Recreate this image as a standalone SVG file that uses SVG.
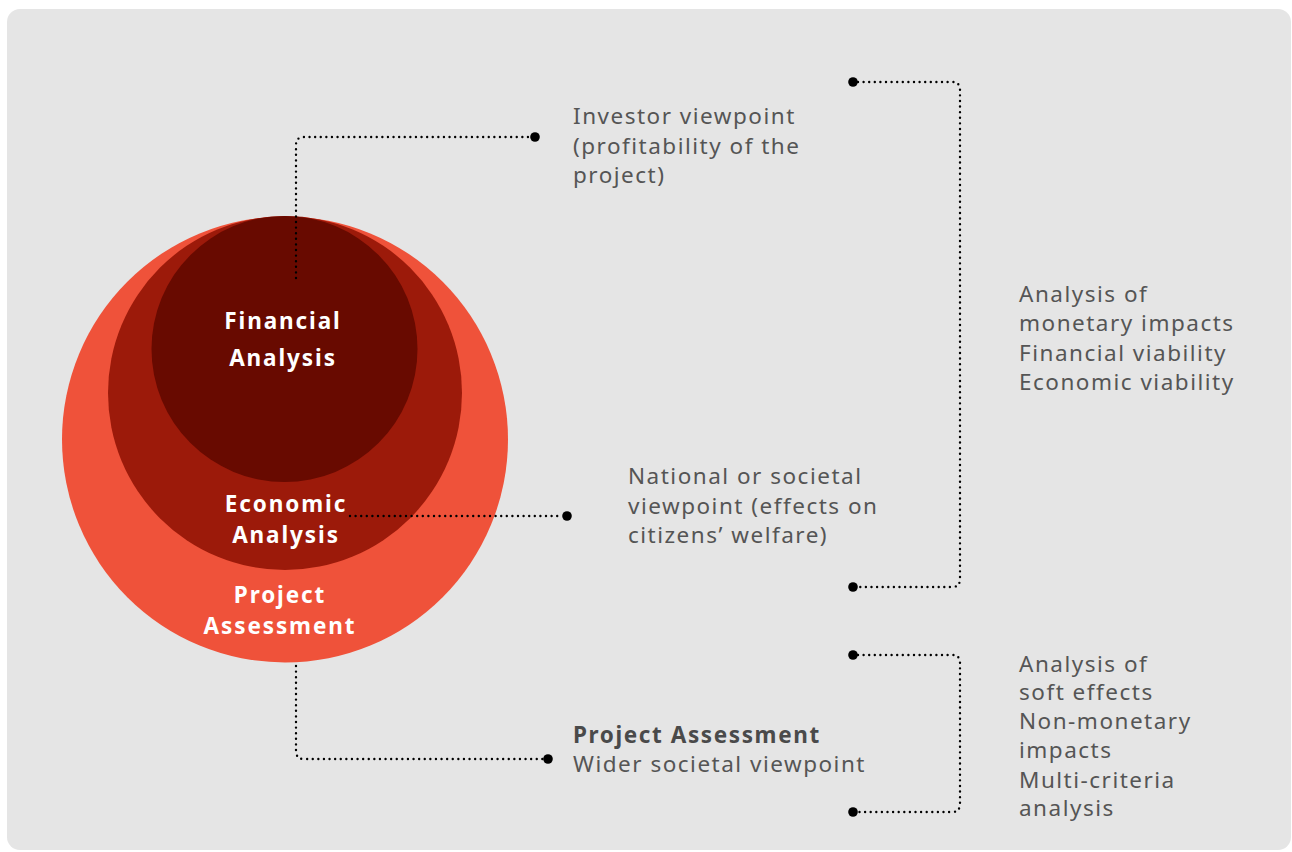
<svg xmlns="http://www.w3.org/2000/svg" width="1292" height="852" viewBox="0 0 1292 852">
<defs>
<style>
.lbl{font-family:"Noto Sans","Open Sans",sans-serif;font-size:22.5px;fill:#555;letter-spacing:1.5px}
.lblb{font-family:"Noto Sans","Open Sans",sans-serif;font-size:22.5px;fill:#4a4a4a;font-weight:bold;letter-spacing:1.6px}
.in{font-family:"Noto Sans","Open Sans",sans-serif;font-size:22.5px;fill:#fff;font-weight:bold;text-anchor:middle;letter-spacing:1.9px}
.dot{fill:none;stroke:#000;stroke-width:2.4;stroke-linecap:round;stroke-dasharray:0 5.6}
.end{fill:#000}
</style>
</defs>
<rect x="7" y="9" width="1284" height="841" rx="13" fill="#e5e5e5"/>
<g id="project-assessment">
<circle cx="285" cy="439.5" r="223" fill="#ef523a"/>
<text class="in" x="280" y="603">Project</text>
<text class="in" x="280" y="634">Assessment</text>
</g>
<g id="economic-analysis">
<circle cx="285" cy="393" r="177" fill="#9c1a0a"/>
<text class="in" x="286" y="512">Economic</text>
<text class="in" x="286" y="543">Analysis</text>
</g>
<g id="financial-analysis">
<circle cx="284.5" cy="349" r="133" fill="#680a00"/>
<text class="in" x="283" y="329">Financial</text>
<text class="in" x="283" y="366">Analysis</text>
</g>
<g id="connectors">
<path class="dot" d="M296 278 V145 Q296 137 304 137 H530"/>
<circle class="end" cx="535" cy="137" r="4.8"/>
<path class="dot" d="M350 516 H562"/>
<circle class="end" cx="567" cy="516" r="4.8"/>
<path class="dot" d="M296 666 V751 Q296 759 304 759 H543"/>
<circle class="end" cx="548" cy="759" r="4.8"/>
<path class="dot" d="M858 82 H952 Q960 82 960 90 V579 Q960 587 952 587 H858"/>
<circle class="end" cx="853" cy="82" r="4.8"/>
<circle class="end" cx="853" cy="587" r="4.8"/>
<path class="dot" d="M858 655 H952 Q960 655 960 663 V804 Q960 812 952 812 H858"/>
<circle class="end" cx="853" cy="655" r="4.8"/>
<circle class="end" cx="853" cy="812" r="4.8"/>
</g>
<g id="investor-viewpoint">
<text class="lbl" x="573" y="124">Investor viewpoint</text>
<text class="lbl" x="573" y="153.5">(profitability of the</text>
<text class="lbl" x="573" y="183">project)</text>
</g>
<g id="societal-viewpoint">
<text class="lbl" x="628" y="484">National or societal</text>
<text class="lbl" x="628" y="513.5">viewpoint (effects on</text>
<text class="lbl" x="628" y="543">citizens’ welfare)</text>
</g>
<g id="wider-viewpoint">
<text class="lblb" x="573" y="743">Project Assessment</text>
<text class="lbl" x="573" y="772">Wider societal viewpoint</text>
</g>
<g id="monetary-impacts">
<text class="lbl" x="1019" y="302">Analysis of</text>
<text class="lbl" x="1019" y="331">monetary impacts</text>
<text class="lbl" x="1019" y="361">Financial viability</text>
<text class="lbl" x="1019" y="390">Economic viability</text>
</g>
<g id="soft-effects">
<text class="lbl" x="1019" y="672">Analysis of</text>
<text class="lbl" x="1019" y="700">soft effects</text>
<text class="lbl" x="1019" y="729">Non-monetary</text>
<text class="lbl" x="1019" y="758">impacts</text>
<text class="lbl" x="1019" y="788">Multi-criteria</text>
<text class="lbl" x="1019" y="816">analysis</text>
</g>
</svg>
